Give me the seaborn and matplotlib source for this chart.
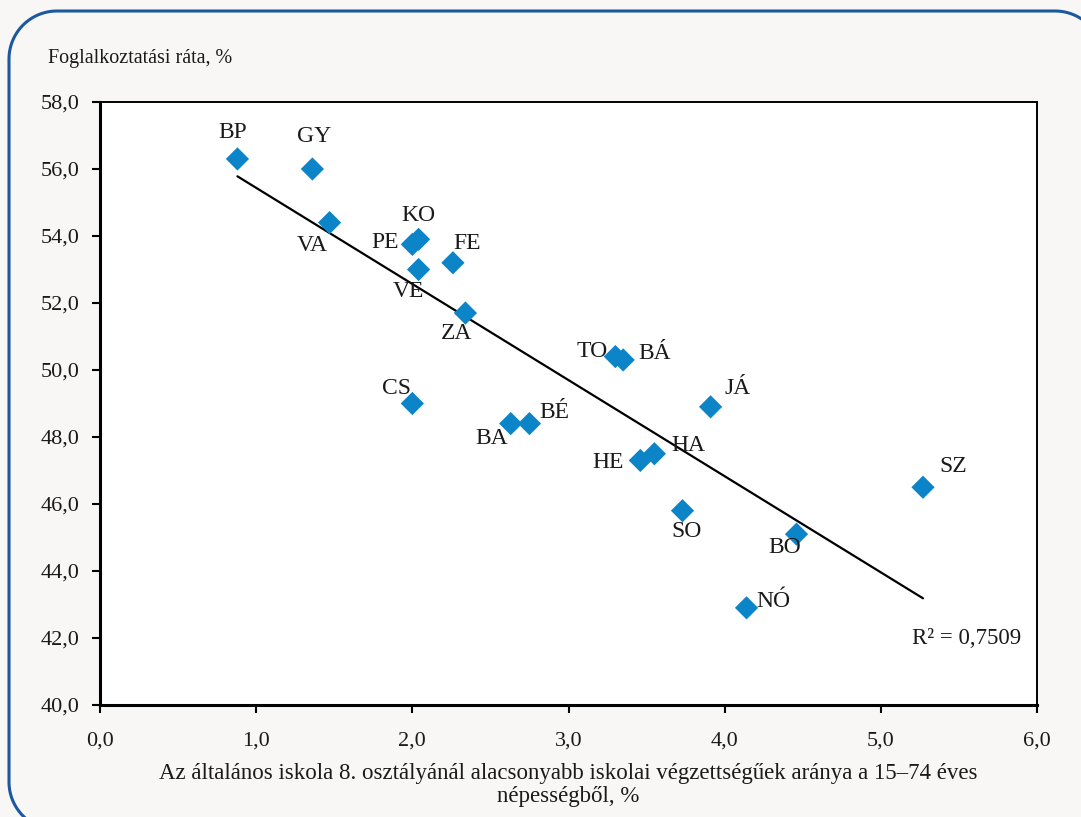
import numpy as np
import pandas as pd
import seaborn as sns
import matplotlib
matplotlib.use("Agg")
import matplotlib.pyplot as plt
from matplotlib.patches import PathPatch
from matplotlib.path import Path
from matplotlib.transforms import IdentityTransform
from matplotlib.ticker import FuncFormatter, MultipleLocator

# ---- data ----
counties = ["BP", "GY", "VA", "KO", "PE", "VE", "FE", "ZA", "TO", "BÁ",
            "CS", "BA", "BÉ", "JÁ", "HA", "HE", "SO", "BO", "SZ", "NÓ"]
low_edu = [0.88, 1.36, 1.47, 2.04, 2.00, 2.04, 2.26, 2.34, 3.30, 3.35,
           2.00, 2.63, 2.75, 3.91, 3.55, 3.46, 3.73, 4.46, 5.27, 4.14]
employment = [56.3, 56.0, 54.4, 53.9, 53.75, 53.0, 53.2, 51.7, 50.4, 50.3,
              49.0, 48.4, 48.4, 48.9, 47.5, 47.3, 45.8, 45.1, 46.5, 42.9]
r2_text = "R² = 0,7509"
y_label = "Foglalkoztatási ráta, %"
x_label = ("Az általános iskola 8. osztályánál alacsonyabb iskolai végzettségűek aránya a 15–74 éves\n"
           "népességből, %")

# label offsets (pixels) relative to each marker
offsets = {"BP": (-5, 26), "GY": (2, 33), "VA": (-17, -23), "KO": (0, 24),
           "PE": (-27, 2), "VE": (-10, -22), "FE": (14, 19), "ZA": (-9, -20),
           "TO": (-23, 5), "BÁ": (32, 6), "CS": (-16, 15), "BA": (-19, -15),
           "BÉ": (25, 11), "JÁ": (27, 18), "HA": (34, 8), "HE": (-32, -2),
           "SO": (4, -21), "BO": (-12, -13), "SZ": (30, 21), "NÓ": (27, 6)}

df = pd.DataFrame({"county": counties, "x": low_edu, "y": employment})

sns.set_theme(style="white")
plt.rcParams["font.family"] = ["Liberation Serif", "DejaVu Serif"]

BG = "#f8f7f5"
W, H = 1081, 817
fig = plt.figure(figsize=(W / 100, H / 100), dpi=100, facecolor=BG)
ax = fig.add_axes([100 / W, 1 - 705 / H, 937 / W, 603 / H])
ax.set_facecolor("white")


# rounded outer frame, built in pixel coordinates (origin bottom-left)
def rounded_rect(x0, y0, x1, y1, r, n=30):
    pts = []
    corners = [((x1 - r, y1 - r), 0, 90), ((x0 + r, y1 - r), 90, 180),
               ((x0 + r, y0 + r), 180, 270), ((x1 - r, y0 + r), 270, 360)]
    for (cx, cy), a0, a1 in corners:
        t = np.radians(np.linspace(a0, a1, n))
        pts.extend(zip(cx + r * np.cos(t), cy + r * np.sin(t)))
    pts.append(pts[0])
    return Path(np.array(pts))


frame = PathPatch(rounded_rect(9, H - 830, 1103, H - 11, 48),
                  transform=IdentityTransform(), facecolor="none",
                  edgecolor="#1b58a0", linewidth=2.2, clip_on=False, zorder=0)
fig.patches.append(frame)

sns.regplot(data=df, x="x", y="y", scatter=False, ci=None, ax=ax,
            line_kws=dict(color="black", linewidth=1.6), truncate=True)
sns.scatterplot(data=df, x="x", y="y", marker="D", s=140, color="#0b84c8",
                edgecolor="none", ax=ax, zorder=3)

for name, xv, yv in zip(counties, low_edu, employment):
    dx, dy = offsets[name]
    ax.annotate(name, (xv, yv), xytext=(dx, dy), textcoords="offset pixels",
                ha="center", va="center", fontsize=17, color="#1a1a1a", zorder=4)

ax.text(5.55, 42.0, r2_text, ha="center", va="center", fontsize=16.5, color="#1a1a1a")

ax.set_xlim(0, 6)
ax.set_ylim(40, 58)
ax.xaxis.set_major_locator(MultipleLocator(1))
ax.yaxis.set_major_locator(MultipleLocator(2))
fmt = FuncFormatter(lambda v, p: f"{v:.1f}".replace(".", ","))
ax.xaxis.set_major_formatter(fmt)
ax.yaxis.set_major_formatter(fmt)
ax.tick_params(axis="both", which="major", direction="out", length=6, width=1.5,
               color="black", labelsize=16, labelcolor="#1a1a1a",
               bottom=True, left=True)
ax.tick_params(axis="x", pad=13)
ax.tick_params(axis="y", pad=9)

for side in ["left", "bottom"]:
    ax.spines[side].set_linewidth(2.2)
    ax.spines[side].set_color("black")
for side in ["top", "right"]:
    ax.spines[side].set_linewidth(1.4)
    ax.spines[side].set_color("black")

ax.set_xlabel(x_label, fontsize=16.5, color="#1a1a1a", labelpad=9, linespacing=1.15)
ax.set_ylabel("")
fig.text(48 / W, 1 - 58 / H, y_label, ha="left", va="center",
         fontsize=14.5, color="#1a1a1a")

fig.savefig("out.png", dpi=100, facecolor=BG)
